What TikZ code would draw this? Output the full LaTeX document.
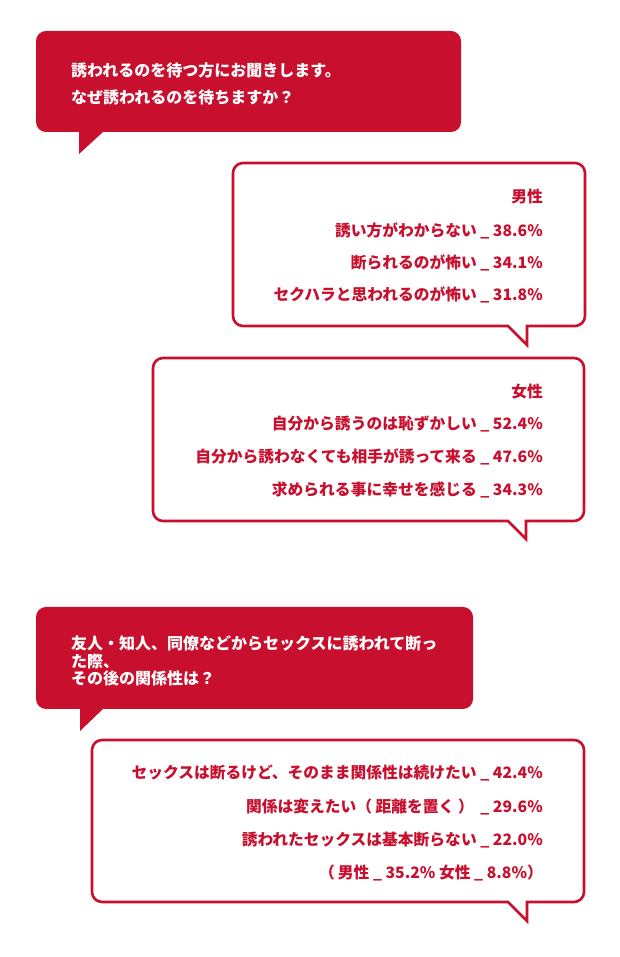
\documentclass[tikz,border=0pt]{standalone}
\usepackage{fontspec}
\setmainfont{Noto Sans CJK JP}
\definecolor{brandred}{RGB}{200,16,46}
\newcommand\fsz{\fontsize{15.75}{18}\selectfont}
\newcommand\qsz{\fontsize{16}{18}\selectfont}
% args: 1 style, 2 L, 3 T, 4 R, 5 B, 6 p1x, 7 tipx, 8 tipy, 9 p2x
\newcommand\bubble[9]{\path[#1] ({#2+10},#3) -- ({#4-10},#3) arc[start angle=90,end angle=0,radius=10] -- (#4,{#5+10}) arc[start angle=0,end angle=-90,radius=10] -- (#6,#5) -- (#7,#8) -- (#9,#5) -- ({#2+10},#5) arc[start angle=270,end angle=180,radius=10] -- (#2,{#3-10}) arc[start angle=180,end angle=90,radius=10] -- cycle;}
\begin{document}
\begin{tikzpicture}[x=1pt,y=1pt,
  redbox/.style={fill=brandred,draw=none},
  outbox/.style={draw=brandred,line width=2.6pt,fill=white,line join=miter},
  qtext/.style={text=white,font=\qsz\bfseries,inner sep=0pt,anchor=west},
  atext/.style={text=brandred,font=\fsz\bfseries,inner sep=0pt,anchor=east}]
\useasboundingbox[fill=white] (0,0) rectangle (620,957);
% bubble 1 (question)
\bubble{redbox}{36}{926}{461}{825}{103}{79}{803}{79}
\node[qtext] (q1a) at (71,887) {誘われるのを待つ方にお聞きします。};
\node[qtext] (q1b) at (71,860) {なぜ誘われるのを待ちますか？};
% bubble 2 (male)
\bubble{outbox}{233}{794}{585}{631}{527}{527}{612}{508}
\node[atext] (m0) at (543,760) {男性};
\node[atext] (m1) at (543,726) {誘い方がわからない \_ 38.6\%};
\node[atext] (m2) at (543,694) {断られるのが怖い \_ 34.1\%};
\node[atext] (m3) at (543,662) {セクハラと思われるのが怖い \_ 31.8\%};
% bubble 3 (female)
\bubble{outbox}{153}{599}{584}{436}{526}{526}{418}{508}
\node[atext] (f0) at (543,565) {女性};
\node[atext] (f1) at (543,533) {自分から誘うのは恥ずかしい \_ 52.4\%};
\node[atext] (f2) at (543,500) {自分から誘わなくても相手が誘って来る \_ 47.6\%};
\node[atext] (f3) at (543,467) {求められる事に幸せを感じる \_ 34.3\%};
% bubble 4 (question)
\bubble{redbox}{36}{350}{473}{248}{103}{80}{226}{80}
\node[qtext] (q2a) at (71,314) {友人・知人、同僚などからセックスに誘われて断っ};
\node[qtext] (q2b) at (71,296) {た際、};
\node[qtext] (q2c) at (71,279) {その後の関係性は？};
% bubble 5 (answers)
\bubble{outbox}{92}{217}{584}{55}{527}{527}{36}{508}
\node[atext] (r1) at (543,184) {セックスは断るけど、そのまま関係性は続けたい \_ 42.4\%};
\node[atext] (r2) at (543,150) {関係は変えたい（ 距離を置く ）\hspace{3pt} \_ 29.6\%};
\node[atext] (r3) at (543,117) {誘われたセックスは基本断らない \_ 22.0\%};
\node[atext] (r4) at (543,84) {（\hspace{3pt}男性 \_ 35.2\% 女性 \_ 8.8\%）};
\end{tikzpicture}
\end{document}
